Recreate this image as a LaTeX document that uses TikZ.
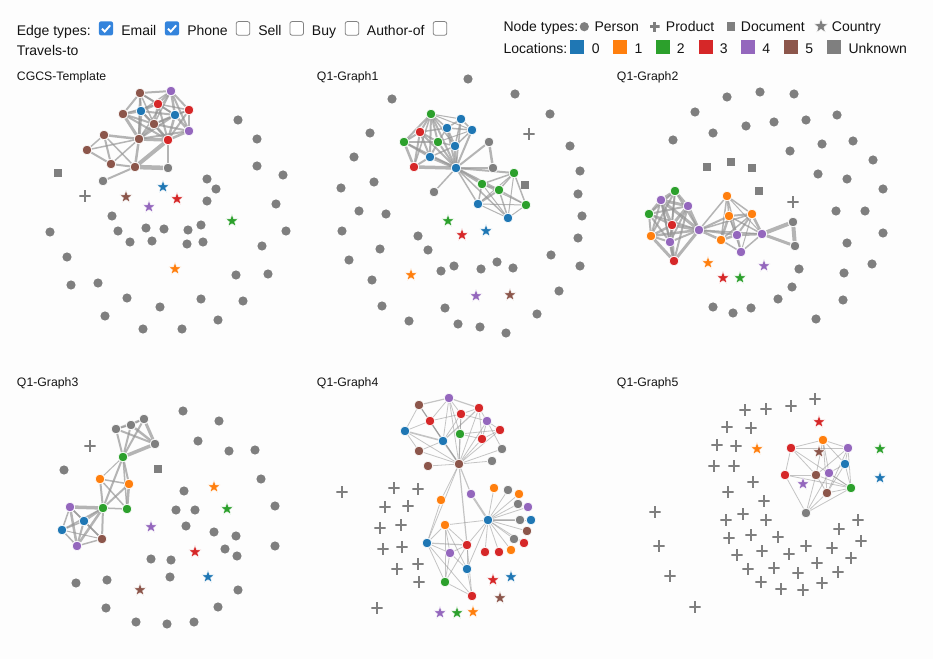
\documentclass[tikz,border=0pt]{standalone}
\usepackage{fontspec}
\setmainfont{Liberation Sans}
\usetikzlibrary{shapes.geometric}
\pgfdeclarelayer{bgfill}
\pgfdeclarelayer{bg}
\pgfsetlayers{bgfill,bg,main}
\definecolor{c0}{RGB}{31,119,180}
\definecolor{c1}{RGB}{255,127,14}
\definecolor{c2}{RGB}{44,160,44}
\definecolor{c3}{RGB}{214,39,40}
\definecolor{c4}{RGB}{148,103,189}
\definecolor{c5}{RGB}{140,86,75}
\definecolor{cu}{RGB}{127,127,127}
\definecolor{edc}{RGB}{150,150,150}
\definecolor{bgc}{RGB}{253,253,253}
\definecolor{cbblue}{RGB}{52,132,220}
\definecolor{cbgray}{RGB}{130,130,130}
\definecolor{txt}{RGB}{20,20,20}
\tikzset{
  pp/.style={circle, fill=#1, draw=white, line width=0.5pt, minimum size=7.2pt, inner sep=0pt},
  pg/.style={circle, fill=cu, minimum size=6.9pt, inner sep=0pt},
  st/.style={star, star points=5, star point ratio=2.4, fill=#1, draw=white, line width=0.3pt, minimum size=9.8pt, inner sep=0pt},
  prod/.style={rectangle, minimum size=#1, inner sep=0pt,
    path picture={\fill[cu] ([yshift=-1pt]path picture bounding box.west) rectangle ([yshift=1pt]path picture bounding box.east);
                  \fill[cu] ([xshift=-1pt]path picture bounding box.south) rectangle ([xshift=1pt]path picture bounding box.north);}},
  prod/.default=8.4pt,
  doc/.style={rectangle, fill=cu, minimum size=6.6pt, inner sep=0pt},
  ed/.style={draw=edc, line width=#1*0.75pt, draw opacity=0.7},
  edt/.style={draw=edc, line width=#1*0.6pt, draw opacity=0.55},
  lbl/.style={anchor=base west, inner sep=0pt, text=txt, font=\fontsize{10.5pt}{12pt}\selectfont},
  ttl/.style={anchor=base west, inner sep=0pt, text=txt, font=\fontsize{9.2pt}{11pt}\selectfont},
  cbon/.style={rectangle, rounded corners=1.6pt, fill=cbblue, minimum size=10.6pt, inner sep=0pt},
  cboff/.style={rectangle, rounded corners=1.6pt, fill=white, draw=cbgray, line width=0.6pt, minimum size=10.2pt, inner sep=0pt},
  chk/.style={draw=white, line width=1.4pt},
  lsq/.style={rectangle, fill=#1, minimum size=10.5pt, inner sep=0pt},
}
\begin{document}
\begin{tikzpicture}[x=0.75pt, y=-0.75pt]
\begin{pgfonlayer}{bgfill}
\fill[bgc] (0,0) rectangle (933,659);
\end{pgfonlayer}
\useasboundingbox (0,0) rectangle (933,659);

% ---------- header: edge types ----------
\node[lbl] (etl) at (16.5,36) {Edge types:};
\node[cbon] (cb1) at (106,28.4) {};
\node[lbl] (cbt1) at (121,36) {Email};
\node[cbon] (cb2) at (172,28.4) {};
\node[lbl] (cbt2) at (187,36) {Phone};
\node[cboff] (cb3) at (243,28.4) {};
\node[lbl] (cbt3) at (258,36) {Sell};
\node[cboff] (cb4) at (296.7,28.4) {};
\node[lbl] (cbt4) at (311.7,36) {Buy};
\node[cboff] (cb5) at (352,28.4) {};
\node[lbl] (cbt5) at (366.7,36) {Author-of};
\node[cboff] (cb6) at (440,28.4) {};
\node[lbl] (cbt6) at (16.5,56) {Travels-to};
\foreach \b in {cb1,cb2}{
  \draw[chk] ([shift={(-4,0.3)}]\b.center) -- ([shift={(-1.2,3.1)}]\b.center) -- ([shift={(4.2,-3)}]\b.center);
}

% ---------- header: node types / locations ----------
\node[lbl] (ntl) at (503.3,31.3) {Node types:};
\node[pg] (lgp) at (584.3,26.7) {};
\node[lbl] (lgpt) at (594.3,31.3) {Person};
\node[prod=7.5pt] (lgx) at (654.5,26.7) {};
\node[lbl] (lgxt) at (665.7,31.3) {Product};
\node[doc] (lgd) at (731,26.7) {};
\node[lbl] (lgdt) at (740.7,31.3) {Document};
\node[st=cu, minimum size=11pt] (lgs) at (821,26.2) {};
\node[lbl] (lgst) at (831.7,31.3) {Country};
\node[lbl] (locl) at (503.3,53.3) {Locations:};
\foreach \xx/\cl/\tx/\lab [count=\i] in {577/c0/591.5/0, 620.3/c1/634.3/1, 663/c2/676.7/2, 706/c3/719.5/3, 748/c4/762/4, 791/c5/805/5, 834/cu/848.3/Unknown}{
  \node[lsq=\cl] (loc\i) at (\xx,47.3) {};
  \node[lbl] (loct\i) at (\tx,53.3) {\lab};
}

% ---------- titles ----------
\node[ttl] (t1) at (16.7,81) {CGCS-Template};
\node[ttl] (t2) at (316.7,81) {Q1-Graph1};
\node[ttl] (t3) at (616.7,81) {Q1-Graph2};
\node[ttl] (t4) at (16.7,386.7) {Q1-Graph3};
\node[ttl] (t5) at (316.7,386.7) {Q1-Graph4};
\node[ttl] (t6) at (616.7,386.7) {Q1-Graph5};

% ================= Panel A: CGCS-Template =================
\foreach \x/\y [count=\i] in {238/120,257/139,257/166,283/175,207/179,216/189,207/201,276/204,112/216,201/225,50/232,118/231,146/228,164/229,188/230,286/231,130/242,152/241,187/244,203/242,262/246,67/257,71/285,98/283,236/275,268/274,127/298,160/307,201/299,243/301,105/316,143/329,182/329,218/320}
  \node[pg] (ag\i) at (\x,\y) {};
\foreach \nm/\x/\y/\cl in {a1/140/93/c5, a2/171/91/c4, a3/158/104/c3, a4/141/111/c0, a5/189/110/c3, a6/175/115/c0, a7/123/114/c5, a8/154/124/c5, a9/189/131/c4, a10/104/135/c5, a11/139/139/c5, a12/168/140/c3, a13/87/150/c5, a14/111/164/c5, a15/135/167/c5, a16/168/168/cu, a17/103/181/cu}
  \node[pp=\cl] (\nm) at (\x,\y) {};
\foreach \x/\y/\cl [count=\i] in {163/187/c0, 126/197/c5, 177/199/c3, 149/207/c4, 232/221/c2, 175/269/c1}
  \node[st=\cl] (as\i) at (\x,\y) {};
\node[prod] (ax1) at (85,196) {};
\node[doc] (ad1) at (58,173) {};

% ================= Panel B: Q1-Graph1 =================
\foreach \x/\y [count=\i] in {468/79,515/94,392/99,550/114,370/133,570/146,354/157,580/171,374/182,341/188,578/194,359/211,386/214,582/216,342/231,418/236,578/238,428/250,380/249,551/255,349/260,580/266,454/266,441/271,481/269,497/262,513/268,372/280,559/291,382/306,445/308,537/314,409/321,458/324,480/327,506/333}
  \node[pg] (bg\i) at (\x,\y) {};
\foreach \nm/\x/\y/\cl in {b1/431/114/c2, b2/461/119/c0, b3/420/132/c3, b4/447/128/c0, b5/472/130/c0, b6/404/142/c2, b7/438/142/c2, b8/455/146/c0, b9/430/157/c0, b10/414/167/c3, b11/456/168/c0, b12/489/142/cu, b13/493/168/cu, b14/434/192/cu, b15/514/173/c2, b16/482/184/c2, b17/499/190/c2, b18/478/204/c0, b19/526/205/c2, b20/508/218/c0}
  \node[pp=\cl] (\nm) at (\x,\y) {};
\foreach \x/\y/\cl [count=\i] in {448/221/c2, 486/231/c0, 462/235/c3, 411/275/c1, 476/296/c4, 510/295/c5}
  \node[st=\cl] (bs\i) at (\x,\y) {};
\node[prod] (bx1) at (529,134) {};
\node[doc] (bd1) at (525,185) {};

% ================= Panel C: Q1-Graph2 =================
\foreach \x/\y [count=\i] in {760/92,727/97,794/94,695/112,837/115,774/122,806/120,746/126,713/133,673/140,822/144,853/141,790/151,873/160,818/174,847/179,883/189,836/211,865/211,883/233,847/243,799/269,844/273,872/264,792/287,778/299,843/300,713/307,733/313,751/308,816/319}
  \node[pg] (cg\i) at (\x,\y) {};
\foreach \nm/\x/\y/\cl in {c1/675/191/c2, c2/661/200/c4, c3/688/206/c4, c4/649/214/c2, c5/672/225/c3, c6/651/236/c1, c7/670/242/c4, c8/674/261/c3, c9/699/230/c4, c10/727/196/c1, c11/729/216/c1, c12/752/214/c1, c13/737/235/c4, c14/762/234/c4, c15/721/240/c1, c16/741/252/c4, c17/793/222/cu, c18/795/246/cu}
  \node[pp=\cl] (\nm) at (\x,\y) {};
\foreach \x/\y/\cl [count=\i] in {708/263/c1, 764/266/c4, 723/278/c3, 740/278/c2}
  \node[st=\cl] (cs\i) at (\x,\y) {};
\node[prod] (cx1) at (793,202) {};
\foreach \x/\y [count=\i] in {707/167,731/162,752/168,759/191}
  \node[doc] (cd\i) at (\x,\y) {};

% ================= Panel D: Q1-Graph3 =================
\foreach \x/\y [count=\i] in {183/411,219/421,198/441,229/451,255/450,64/470,261/479,184/491,275/506,176/510,195/510,186/526,214/532,236/536,275/546,225/549,237/556,151/559,171/560,170/577,76/583,107/580,238/590,218/607,106/608,136/622,167/624,194/622}
  \node[pg] (dg\i) at (\x,\y) {};
\foreach \nm/\x/\y/\cl in {d1/116/429/cu, d2/131/425/cu, d3/144/419/cu, d4/155/444/cu, d5/123/457/c2, d6/100/479/c1, d7/129/484/c1, d8/70/507/c4, d9/103/508/c2, d10/127/509/c2, d11/84/521/c0, d12/62/530/c0, d13/77/546/c4, d14/102/539/c5}
  \node[pp=\cl] (\nm) at (\x,\y) {};
\foreach \x/\y/\cl [count=\i] in {214/487/c1, 227/509/c2, 151/527/c4, 195/552/c3, 208/577/c0, 140/590/c5}
  \node[st=\cl] (ds\i) at (\x,\y) {};
\node[prod] (dx1) at (90,446) {};
\node[doc] (dd1) at (158,469) {};

% ================= Panel E: Q1-Graph4 =================
\foreach \nm/\x/\y/\cl in {e1/419/405/c5, e2/449/398/c4, e3/479/408/c3, e4/461/414/c3, e5/430/421/c3, e6/487/421/c4, e7/405/431/c0, e8/500/430/c3, e9/460/434/c2, e10/443/441/c0, e11/482/439/c3, e12/419/451/c5, e13/502/449/cu, e14/492/461/cu, e15/459/464/c5, e16/428/466/c5,
  e17/494/488/c1, e18/508/490/cu, e19/519/494/c1, e20/471/494/c4, e21/441/500/c1, e22/518/504/cu, e23/528/507/c4, e24/488/520/c0, e25/520/520/cu, e26/531/520/c0, e27/445/525/c1, e28/527/531/c5, e29/514/539/cu, e30/524/543/c3, e31/427/543/c0, e32/467/545/c3, e33/485/552/c3, e34/499/552/c3, e35/511/550/c1, e36/450/553/c4, e37/467/569/c0, e38/445/582/c2, e39/472/596/c3}
  \node[pp=\cl] (\nm) at (\x,\y) {};
\foreach \x/\y/\cl [count=\i] in {493/580/c3, 511/577/c0, 500/598/c5, 440/613/c4, 457/613/c2, 473/612/c1}
  \node[st=\cl] (es\i) at (\x,\y) {};
\foreach \x/\y [count=\i] in {342/492,394/488,418/489,385/507,408/506,380/528,401/525,383/549,402/547,397/569,418/564,419/582,377/608}
  \node[prod] (ex\i) at (\x,\y) {};

% ================= Panel F: Q1-Graph5 =================
\foreach \nm/\x/\y/\cl in {f1/823/440/c1, f2/791/448/c3, f3/848/448/c4, f4/845/464/c0, f5/785/475/c3, f6/816/475/c5, f7/829/473/c4, f8/851/488/c2, f9/827/493/c5, f10/806/513/cu}
  \node[pp=\cl] (\nm) at (\x,\y) {};
\foreach \x/\y/\cl [count=\i] in {819/422/c3, 757/449/c1, 819/452/c5, 880/449/c2, 880/478/c0, 803/484/c4}
  \node[st=\cl] (fs\i) at (\x,\y) {};
\foreach \x/\y [count=\i] in {815/399,745/410,766/409,791/406,727/427,751/428,717/445,736/446,714/466,734/466,753/482,728/492,764/501,655/512,743/514,726/520,766/520,858/520,839/529,659/546,729/538,751/535,778/537,861/541,806/546,832/548,737/555,762/551,789/554,851/558,817/563,670/576,748/569,774/568,798/573,838/572,761/582,781/589,803/590,822/583,695/607}
  \node[prod] (fx\i) at (\x,\y) {};

% ================= Edges =================
\begin{pgfonlayer}{bg}
\foreach \u/\v/\w in {a1/a2/2, a1/a3/2, a1/a4/2, a1/a7/2, a1/a11/2, a1/a8/1.5, a2/a3/2, a2/a4/1.5, a2/a5/2, a2/a6/2.5, a2/a9/2, a2/a8/1.5, a3/a4/2, a3/a6/2, a3/a8/2, a3/a12/2, a3/a7/1.5, a3/a5/1.5, a4/a7/2.5, a4/a8/2, a4/a11/3, a4/a6/2, a4/a12/2, a5/a6/2, a5/a9/2.5, a5/a12/2, a5/a8/1.5, a6/a8/2, a6/a9/2.5, a6/a12/2.5, a6/a11/2, a7/a8/2, a7/a11/3, a7/a12/2, a8/a11/3, a8/a12/2.5, a8/a9/2, a9/a12/2.5, a9/a11/2, a11/a12/3.5, a10/a11/2.5, a10/a13/1.5, a10/a14/2, a10/a15/1.5, a13/a11/1.5, a13/a14/2, a14/a11/1.5, a14/a15/2, a15/a11/2.5, a15/a12/4, a15/a16/4.5, a12/a16/2.5, a15/a17/2, a2/a11/1.5, a1/a6/1.5}
  \draw[ed=\w] (\u) -- (\v);
\foreach \u/\v/\w in {b1/b2/1, b1/b3/2, b1/b4/1.5, b1/b5/1, b1/b6/2, b1/b7/2, b1/b8/1.5, b1/b9/2, b1/b10/1.5, b1/b11/2, b2/b4/1.5, b2/b5/1.5, b2/b8/1.5, b2/b11/1.5, b3/b6/2, b3/b7/2, b3/b9/2, b3/b10/2, b3/b11/2, b3/b4/1.5, b4/b5/1.5, b4/b8/2, b4/b11/2, b4/b7/1.5, b5/b8/1.5, b5/b11/2, b5/b7/1, b6/b9/2, b6/b10/2.5, b6/b11/2, b6/b7/1.5, b7/b9/2, b7/b11/2, b7/b8/1.5, b8/b11/2.5, b8/b9/1.5, b9/b10/2, b9/b11/3, b10/b11/3.5, b11/b12/2, b11/b13/2, b12/b13/2.5, b11/b14/1.5, b11/b15/2, b11/b16/2.5, b11/b17/2, b11/b18/1.5, b11/b20/1.5, b15/b16/1.5, b15/b17/1.5, b15/b18/1, b15/b19/1.5, b15/b20/1, b16/b17/1.5, b16/b18/1.5, b16/b20/1, b17/b18/2, b17/b19/1.5, b17/b20/1.5, b18/b19/1, b18/b20/1, b19/b20/1, b16/b19/1}
  \draw[ed=\w] (\u) -- (\v);
\foreach \u/\v/\w in {c1/c2/3, c1/c3/2.5, c1/c4/2, c1/c5/2, c1/c6/2, c1/c7/1.5, c1/c9/2, c2/c3/3, c2/c4/2.5, c2/c5/3, c2/c6/2, c2/c7/2, c2/c8/2, c2/c9/3, c3/c5/3, c3/c7/2, c3/c8/2, c3/c9/3, c3/c4/2, c4/c5/2, c4/c6/2, c4/c7/2, c4/c9/1.5, c5/c6/2.5, c5/c7/2, c5/c8/2, c5/c9/3, c6/c7/2, c6/c8/3, c6/c9/2.5, c7/c8/3, c7/c9/2, c8/c9/3, c9/c10/1.5, c9/c11/2, c9/c12/1.5, c9/c13/2, c9/c15/2.5, c9/c14/1.5, c10/c11/1.5, c10/c12/1.5, c10/c13/1.5, c10/c15/1.5, c10/c14/1, c11/c12/2, c11/c13/2, c11/c15/2.5, c11/c14/1.5, c12/c13/2, c12/c14/2.5, c12/c15/1.5, c12/c16/1, c13/c14/2.5, c13/c15/2.5, c13/c16/2, c14/c16/1.5, c15/c16/1.5, c11/c16/1, c14/c17/4, c14/c18/3, c17/c18/4}
  \draw[ed=\w] (\u) -- (\v);
\foreach \u/\v/\w in {d1/d3/2, d1/d4/2, d1/d5/2, d1/d2/1.5, d2/d4/2.5, d2/d5/2, d2/d3/1.5, d3/d4/3, d3/d5/2, d4/d5/3.5, d5/d6/1, d5/d7/2, d5/d9/2, d5/d10/1.5, d6/d9/2, d6/d10/1.5, d7/d9/2, d7/d10/2.5, d6/d7/1.5, d9/d10/1.5, d8/d9/3.5, d8/d11/1.5, d8/d12/1.5, d8/d13/2.5, d8/d14/1.5, d9/d11/2.5, d9/d12/1.5, d9/d13/2.5, d9/d14/2, d11/d12/1.5, d11/d13/2, d11/d14/1.5, d12/d13/1.5, d13/d14/1.5, d12/d14/1}
  \draw[ed=\w] (\u) -- (\v);
\foreach \u/\v/\w in {e1/e2/1.5, e1/e5/1, e1/e7/1, e1/e10/1.5, e2/e3/1.5, e2/e4/1, e2/e5/1, e2/e10/1, e2/e9/1, e2/e15/1, e3/e4/1, e3/e6/1, e3/e11/1, e3/e10/1.5, e4/e5/1, e4/e6/1, e4/e9/1, e4/e10/1, e4/e15/1, e5/e10/1, e5/e7/1, e5/e15/1, e6/e8/1, e6/e11/1, e6/e13/1, e6/e15/1, e7/e10/2, e7/e12/1, e7/e15/1, e8/e11/1, e8/e9/1, e8/e15/1, e9/e11/1, e9/e15/1.5, e10/e12/1, e10/e15/2, e11/e15/1, e12/e15/1, e13/e15/1, e14/e15/1, e16/e15/1, e3/e15/1, e1/e15/1,
  e15/e20/1.5, e15/e21/1, e15/e32/1.5, e15/e31/1, e20/e24/2.5, e24/e17/1, e24/e18/1, e24/e19/1, e24/e22/1, e24/e23/1, e24/e25/1.5, e24/e26/1, e24/e28/1, e24/e29/1, e24/e30/1, e24/e33/1, e24/e34/1, e24/e35/1, e24/e27/1, e24/e32/1, e24/e37/1, e27/e31/1, e27/e32/1, e27/e36/1, e27/e38/1, e27/e37/1, e31/e21/1, e31/e32/1.5, e31/e36/1, e31/e38/1, e31/e39/1, e32/e36/1, e32/e37/1, e32/e38/1, e32/e39/1, e36/e38/1, e36/e37/1, e38/e39/1, e37/e39/1}
  \draw[edt=\w] (\u) -- (\v);
\foreach \u/\v/\w in {f1/f2/1, f1/f3/1, f1/f4/1, f1/f6/1, f1/f7/1, f1/f9/1, f2/f3/1, f2/f5/1, f2/f6/1, f2/f8/1, f3/f4/1, f3/f8/1, f3/f9/1, f3/f6/1, f4/f8/1, f4/f7/1, f4/f9/1, f5/f6/1, f5/f10/1, f5/f8/1, f6/f8/1, f6/f10/1, f6/f9/1, f7/f8/1, f9/f8/1, f9/f10/1, f8/f10/1, f7/f10/1}
  \draw[edt=\w] (\u) -- (\v);
\end{pgfonlayer}
\end{tikzpicture}
\end{document}
